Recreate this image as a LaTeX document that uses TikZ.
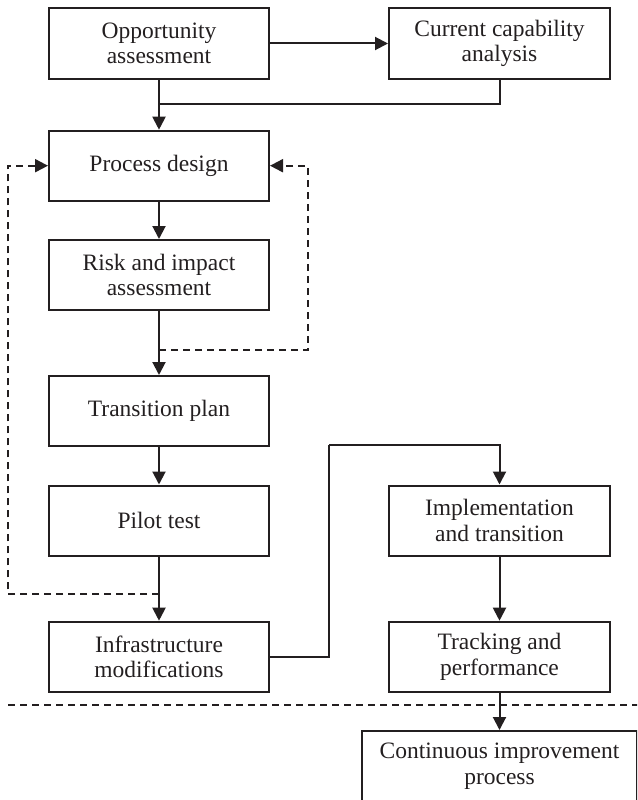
\documentclass[tikz,border=0pt]{standalone}
\usepackage{fontspec}
\setmainfont{Liberation Serif}
\usetikzlibrary{arrows.meta}
\definecolor{ink}{HTML}{231F20}
\tikzset{
  box/.style={draw=ink, line width=2pt, minimum height=70pt, text=ink,
    align=center, inner sep=0pt, font=\fontsize{23.5}{25.5}\selectfont},
  lbox/.style={box, minimum width=220pt},
  rbox/.style={box, minimum width=221pt},
  conn/.style={draw=ink, line width=2pt},
  arr/.style={conn, -{Triangle[length=13pt,width=13pt]}},
  dasharr/.style={conn, dash pattern=on 7pt off 5pt, -{Triangle[length=13pt,width=13pt]}},
  dashline/.style={conn, dash pattern=on 7pt off 5pt}
}
\begin{document}
\begin{tikzpicture}[x=1pt,y=-1pt]
\useasboundingbox (0,0) rectangle (637,800);
\clip (0,0) rectangle (637,800);
\node[lbox] (opp) at (159,43.5) {Opportunity\\assessment};
\node[rbox] (cur) at (499.5,43.5) {Current capability\\analysis};
\node[lbox] (proc) at (159,165.7) {Process design};
\node[lbox] (risk) at (159,275) {Risk and impact\\assessment};
\node[lbox] (trans) at (159,411) {Transition plan};
\node[lbox] (pilot) at (159,520.5) {Pilot test};
\node[lbox] (infra) at (159,656.7) {Infrastructure\\modifications};
\node[rbox] (impl) at (499.5,520.5) {Implementation\\and transition};
\node[rbox] (track) at (499.5,656.7) {Tracking and\\performance};
\node[box, minimum width=275pt] (cont) at (499.5,766) {Continuous improvement\\process};

\coordinate (j1) at (159,104);
\coordinate (d1) at (159,349.7);
\coordinate (r1) at (308,349.7);
\coordinate (d2) at (159,594.3);
\coordinate (l1) at (8,594.3);
\coordinate (k1) at (329,445);
\coordinate (h1) at (8,705);
\coordinate (h2) at (640,705);

\draw[arr] (opp.east) -- (cur.west);
\draw[arr] (opp) -- (proc);
\draw[conn] (cur.south) |- (j1);
\draw[arr] (proc) -- (risk);
\draw[arr] (risk) -- (trans);
\draw[arr] (trans) -- (pilot);
\draw[arr] (pilot) -- (infra);
\draw[dasharr] (d1) -- (r1) |- (proc.east);
\draw[dasharr] (d2) -- (l1) |- (proc.west);
\draw[conn] (infra.east) -| (k1);
\draw[arr] (k1) -| (impl.north);
\draw[arr] (impl) -- (track);
\draw[dashline] (h1) -- (h2);
\draw[arr] (track) -- (cont);
\end{tikzpicture}
\end{document}
